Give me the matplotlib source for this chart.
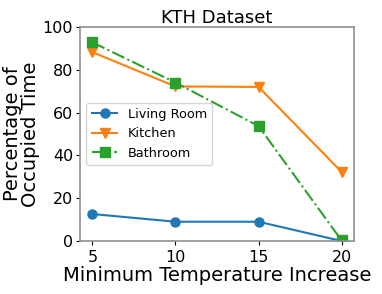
import matplotlib
matplotlib.use("Agg")
import matplotlib.pyplot as plt

# values
temp_increase = [5, 10, 15, 20]
living_room = [12.6, 9.0, 9.0, 0.0]
kitchen = [88.2, 72.2, 72.0, 32.3]
bathroom = [92.8, 74.0, 53.7, 0.3]

fig = plt.figure(figsize=(3.82, 2.94), dpi=100)
ax = fig.add_axes([0.2094, 0.1803, 0.7173, 0.728])

ax.plot(temp_increase, living_room, marker='o', color='#1f77b4', markersize=6.5, linewidth=1.5, label='Living Room')
ax.plot(temp_increase, kitchen, marker='v', color='#ff7f0e', markersize=6.5, linewidth=1.5, label='Kitchen')
ax.plot(temp_increase, bathroom, marker='s', color='#2ca02c', markersize=6.5, linewidth=1.5, linestyle='-.', label='Bathroom')

ax.set_ylim(0, 100)
ax.set_xticks(temp_increase)
ax.set_yticks([0, 20, 40, 60, 80, 100])
ax.tick_params(labelsize=11.5, length=3)
ax.tick_params(axis='y', pad=2)

for s in ax.spines.values():
    s.set_color('#909090')
    s.set_linewidth(1.2)

ax.set_title('KTH Dataset', fontsize=13, pad=3)
ax.set_xlabel('Minimum Temperature Increase', fontsize=14, labelpad=1)
ax.set_ylabel('Percentage of\nOccupied Time', fontsize=14, labelpad=2, linespacing=0.95)

ax.legend(loc='center left', fontsize=9.3, bbox_to_anchor=(0.0, 0.5))

fig.savefig('out.png', dpi=100)
